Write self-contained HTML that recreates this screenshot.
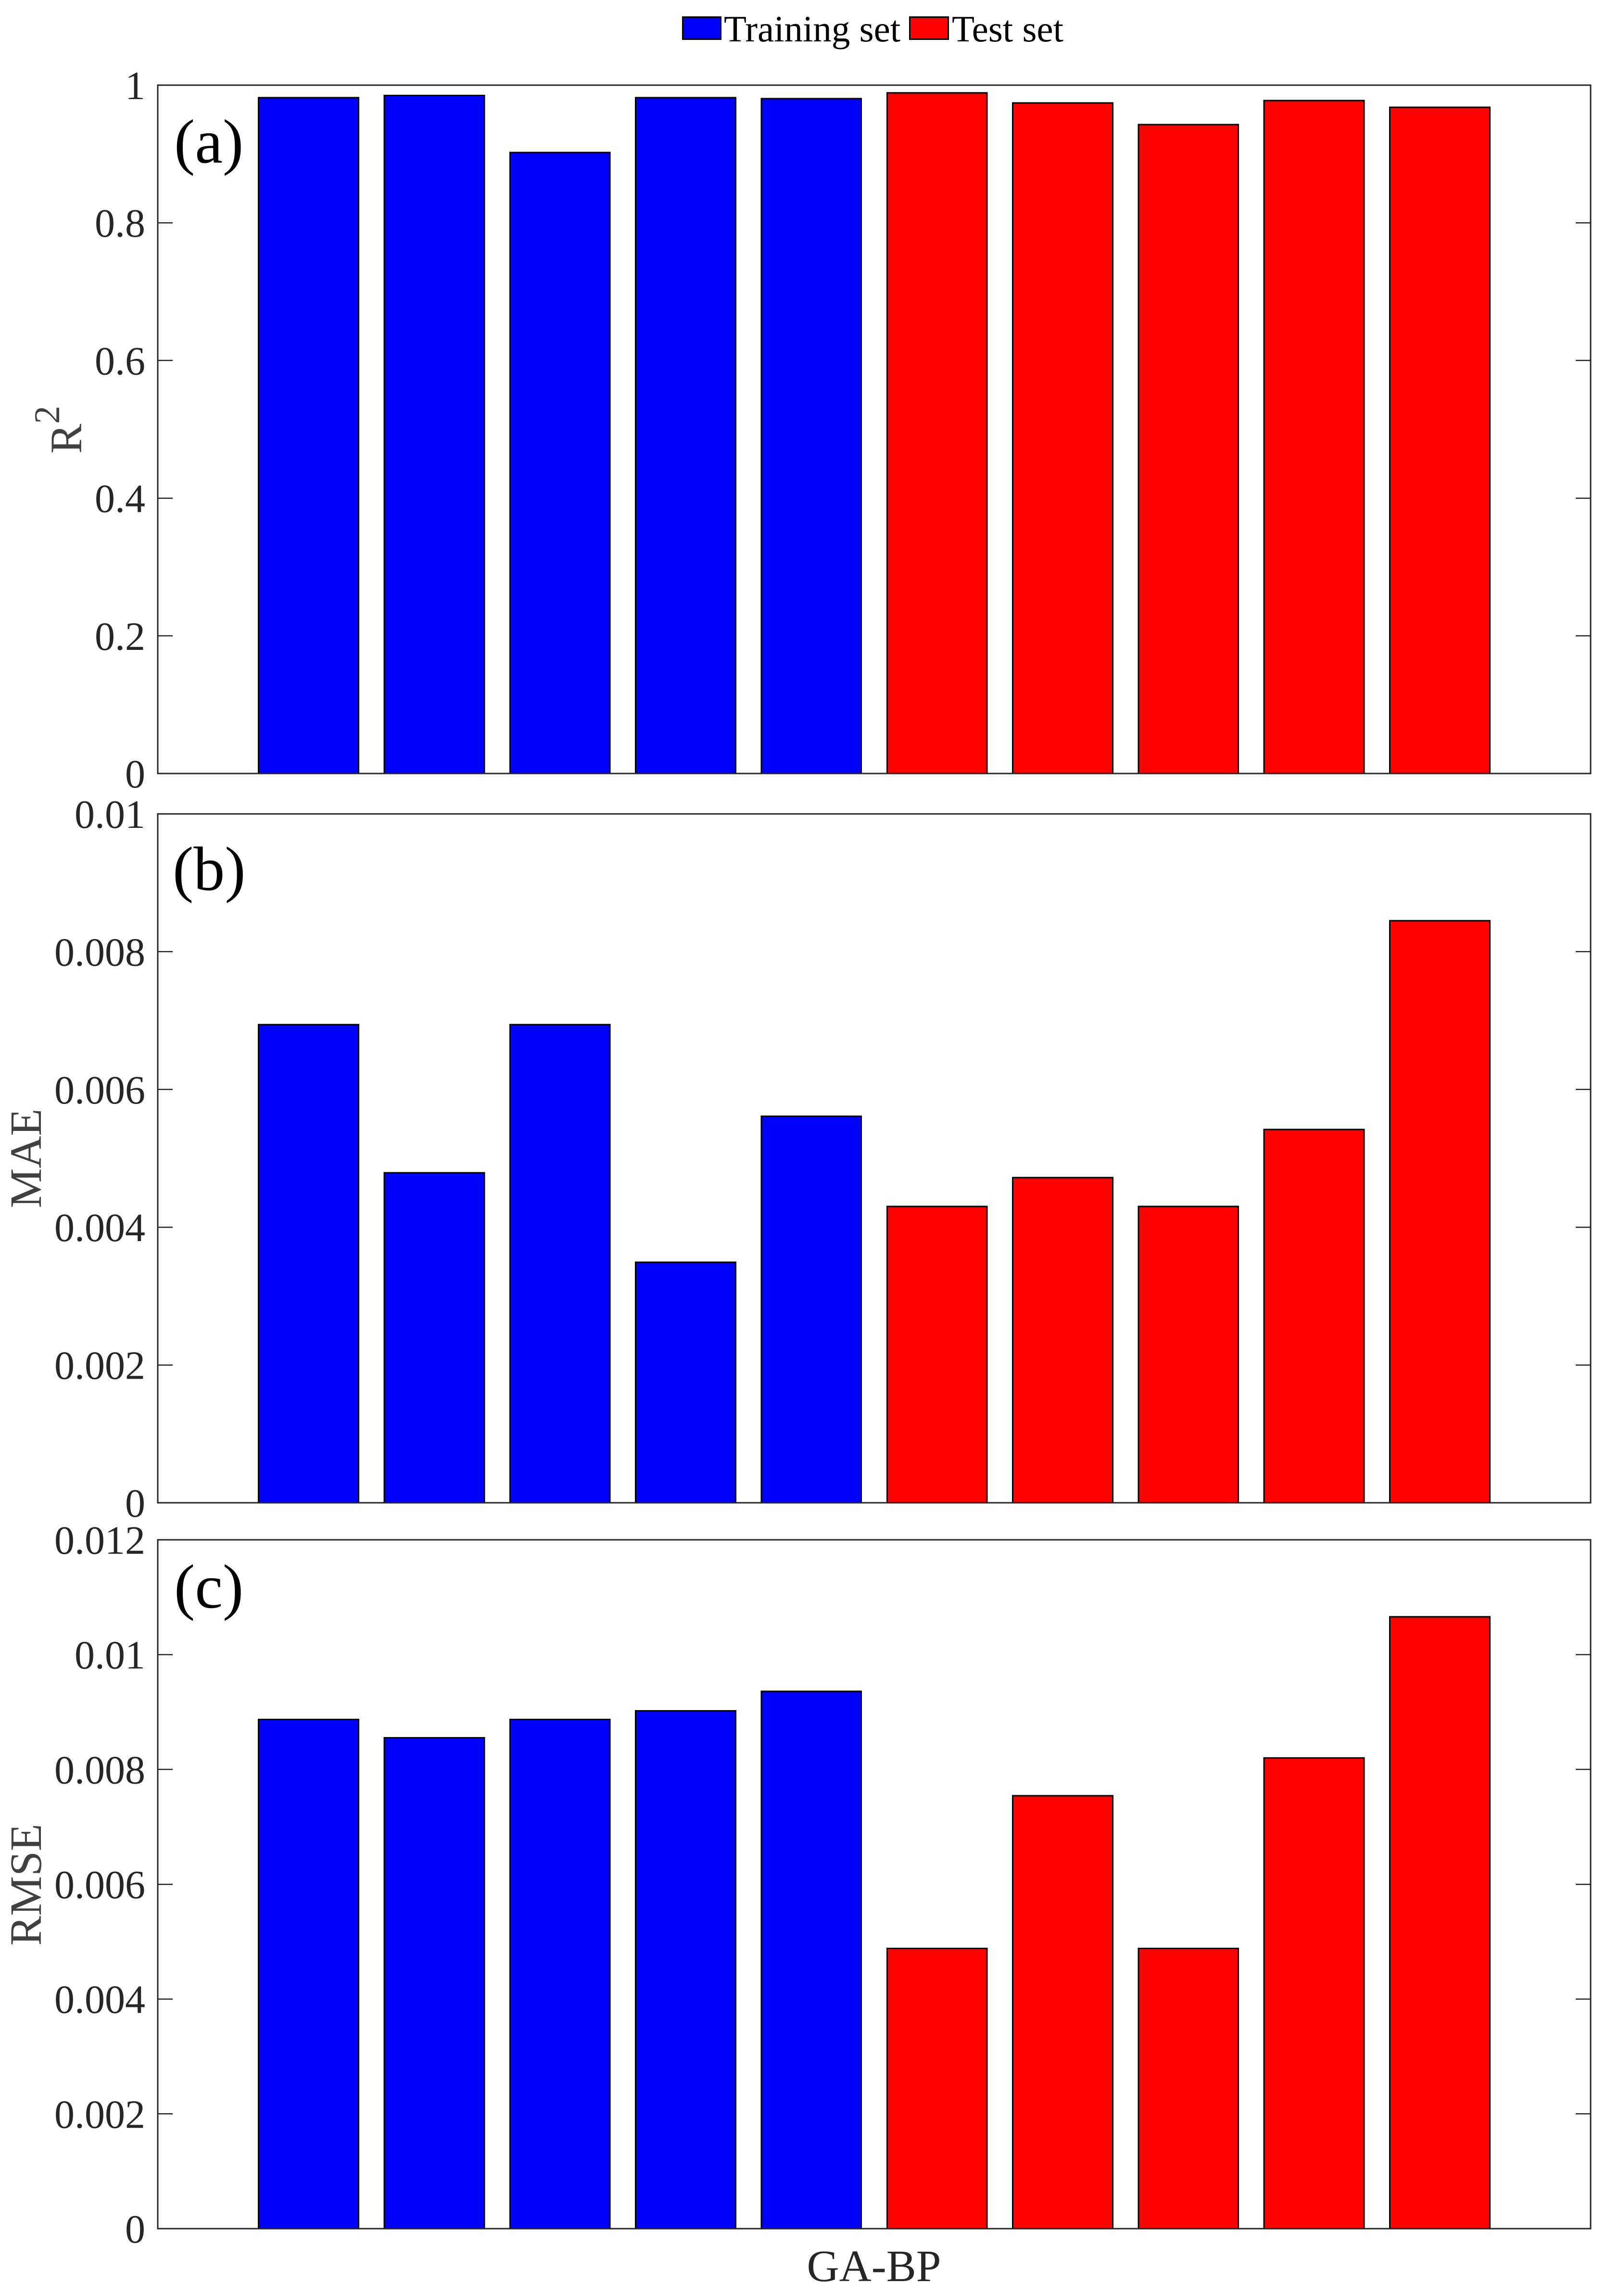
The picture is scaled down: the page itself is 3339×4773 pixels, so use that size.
<!DOCTYPE html>
<html lang="en">
<head>
<meta charset="utf-8">
<title>GA-BP model metrics</title>
<style>
html,body{margin:0;padding:0;background:#fff}
svg{display:block}
text{font-family:"Liberation Serif","Times New Roman",serif}
</style>
</head>
<body>
<svg id="chart" xmlns="http://www.w3.org/2000/svg" width="3339" height="4773" viewBox="0 0 3339 4773"></svg>
<script>
const categories = ['T1','T2','T3','T4','T5','P1','P2','P3','P4','P5'];
const seriesGroup = ['train','train','train','train','train','test','test','test','test','test'];
const r2Values = [0.982,0.985,0.902,0.982,0.9806,0.9887,0.974,0.9426,0.9775,0.968];
const maeValues = [0.00694,0.00479,0.00694,0.00349,0.00561,0.00430,0.00472,0.00430,0.00542,0.00845];
const rmseValues = [0.00887,0.00855,0.00887,0.00902,0.00936,0.00488,0.00754,0.00488,0.00820,0.01066];
const r2Ticks = [0,0.2,0.4,0.6,0.8,1];
const r2TickLabels = ['0','0.2','0.4','0.6','0.8','1'];
const maeTicks = [0,0.002,0.004,0.006,0.008,0.01];
const maeTickLabels = ['0','0.002','0.004','0.006','0.008','0.01'];
const rmseTicks = [0,0.002,0.004,0.006,0.008,0.01,0.012];
const rmseTickLabels = ['0','0.002','0.004','0.006','0.008','0.01','0.012'];

const NS = 'http://www.w3.org/2000/svg';
const svg = document.getElementById('chart');
const AXIS = '#262626';
const left = 328, right = 3307;
const unit = (right - left) / 11.4;
const barW = 0.795 * unit;
const colors = {train:'#0000ff', test:'#ff0000'};

function make(tag, attrs, parent) {
  const el = document.createElementNS(NS, tag);
  for (const k in attrs) el.setAttribute(k, attrs[k]);
  (parent || svg).appendChild(el);
  return el;
}
function xScale(i) { return left + (i + 1.2) * unit; }

function drawPanel(key, top, bottom, yMax, values, ticks, tickLabels) {
  const yScale = v => bottom - (v / yMax) * (bottom - top);
  const g = make('g', {});
  
  

  values.forEach((v, i) => {
    const cx = xScale(i);
    const y = yScale(v);
    const bar = make('rect', {x: cx - barW / 2, y: y, width: barW, height: bottom - y,
      fill: colors[seriesGroup[i]], stroke: '#000', 'stroke-width': 3, 'shape-rendering': 'crispEdges'}, g);
    
    
  });

  ticks.forEach((t, i) => {
    const y = yScale(t);
    const tl = make('line', {x1: left, x2: left + 31, y1: y, y2: y, stroke: AXIS, 'stroke-width': 2.5, 'shape-rendering': 'crispEdges'}, g);
    
    
    const tr = make('line', {x1: right - 31, x2: right, y1: y, y2: y, stroke: AXIS, 'stroke-width': 2.5, 'shape-rendering': 'crispEdges'}, g);
    
    
    const label = make('text', {x: 302, y: y + 29, 'text-anchor': 'end', 'font-size': 84, fill: AXIS}, g);
    label.textContent = tickLabels[i];
    
    
  });

  const box = make('rect', {x: left, y: top, width: right - left, height: bottom - top,
    fill: 'none', stroke: AXIS, 'stroke-width': 3, 'shape-rendering': 'crispEdges'}, g);
  
  
}

drawPanel('r2', 177, 1608, 1, r2Values, r2Ticks, r2TickLabels);
drawPanel('mae', 1692, 3124, 0.01, maeValues, maeTicks, maeTickLabels);
drawPanel('rmse', 3201, 4633, 0.012, rmseValues, rmseTicks, rmseTickLabels);

/* Panel letters */
const letterA = make('text', {x: 362, y: 338, 'font-size': 130, fill: '#000'});
letterA.textContent = '(a)';


const letterB = make('text', {x: 359, y: 1850, 'font-size': 130, fill: '#000'});
letterB.textContent = '(b)';


const letterC = make('text', {x: 362, y: 3342, 'font-size': 130, fill: '#000'});
letterC.textContent = '(c)';



/* Y axis titles */
const r2Title = make('text', {transform: 'translate(169,943) rotate(-90)', 'font-size': 93, fill: '#404040'});


r2Title.appendChild(document.createTextNode('R'));
const r2Sup = make('tspan', {dy: -46, 'font-size': 75}, r2Title);
r2Sup.textContent = '2';
const maeTitle = make('text', {transform: 'translate(85,2408) rotate(-90)', 'text-anchor': 'middle', 'font-size': 93, fill: '#404040'});
maeTitle.textContent = 'MAE';


const rmseTitle = make('text', {transform: 'translate(85,3918) rotate(-90)', 'text-anchor': 'middle', 'font-size': 93, fill: '#404040'});
rmseTitle.textContent = 'RMSE';



/* X axis title */
const xTitle = make('text', {x: 1817, y: 4742, 'text-anchor': 'middle', 'font-size': 93, fill: AXIS});
xTitle.textContent = 'GA-BP';



/* Legend */
const swatchTrain = make('rect', {x: 1419.5, y: 35.5, width: 79, height: 46, fill: colors.train, stroke: '#000', 'stroke-width': 3, 'shape-rendering': 'crispEdges'});


const labelTrain = make('text', {x: 1505, y: 86, 'font-size': 77, fill: '#000'});
labelTrain.textContent = 'Training set';


const swatchTest = make('rect', {x: 1891.5, y: 35.5, width: 80, height: 46, fill: colors.test, stroke: '#000', 'stroke-width': 3, 'shape-rendering': 'crispEdges'});


const labelTest = make('text', {x: 1979, y: 86, 'font-size': 77, fill: '#000'});
labelTest.textContent = 'Test set';


</script>
</body>
</html>
